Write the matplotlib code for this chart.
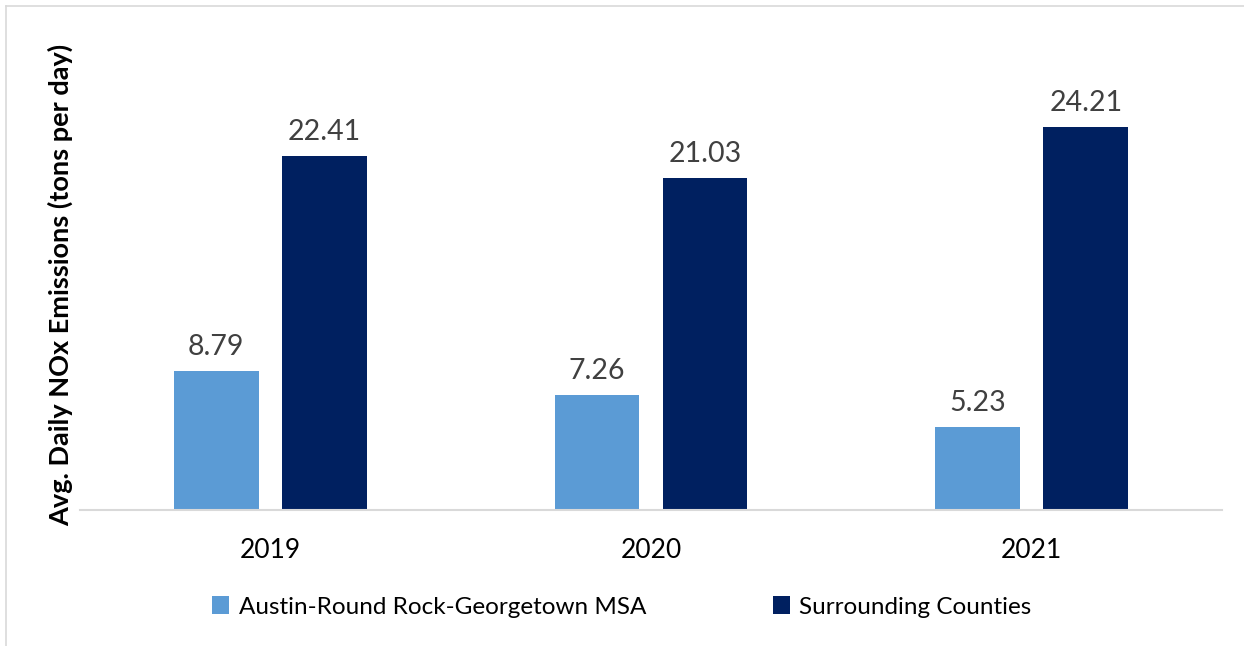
import matplotlib.pyplot as plt
import numpy as np

years = ["2019", "2020", "2021"]
msa = [8.79, 7.26, 5.23]
surrounding = [22.41, 21.03, 24.21]
series_names = ["Austin-Round Rock-Georgetown MSA", "Surrounding Counties"]

plt.rcParams['font.family'] = ['Lato', 'DejaVu Sans']

fig = plt.figure(figsize=(12.44, 6.46), dpi=100)
ax = fig.add_axes([80 / 1244, 136 / 646, 1142 / 1244, 474 / 646])

x = np.arange(len(years))
w = 0.223
off = 0.142
b1 = ax.bar(x - off, msa, w, color="#5B9BD5", label=series_names[0])
b2 = ax.bar(x + off, surrounding, w, color="#002060", label=series_names[1])

for bars in (b1, b2):
    for r in bars:
        ax.annotate(f"{r.get_height():.2f}", (r.get_x() + r.get_width() / 2, r.get_height()),
                    xytext=(0, 8), textcoords="offset points", ha="center", va="bottom",
                    fontsize=20.5, color="#404040")

ax.set_xlim(-0.5, 2.5)
ax.set_ylim(0, 30)
ax.set_xticks(x)
ax.set_xticklabels(years, fontsize=19)
ax.tick_params(axis="x", length=0, pad=20)
ax.set_yticks([])
for s in ["top", "right", "left"]:
    ax.spines[s].set_visible(False)
ax.spines["bottom"].set_color("#D9D9D9")
ax.spines["bottom"].set_linewidth(1.5)

ax.set_ylabel("Avg. Daily NOx Emissions (tons per day)", fontsize=19.5, fontweight="bold")
ax.yaxis.set_label_coords(-0.006, 0.475)

fig.legend(loc="center", bbox_to_anchor=(0.5, 1 - 607 / 646), ncol=2, frameon=False,
           fontsize=17.5, handlelength=0.7, handleheight=0.75, columnspacing=5.2, handletextpad=0.4)

# thin frame along the top and left edges
fig.add_artist(plt.Line2D([6 / 1244, 1], [1 - 6 / 646, 1 - 6 / 646], color="#D9D9D9", lw=1.2))
fig.add_artist(plt.Line2D([6 / 1244, 6 / 1244], [0, 1 - 6 / 646], color="#D9D9D9", lw=1.2))

fig.savefig("out.png", dpi=100)
